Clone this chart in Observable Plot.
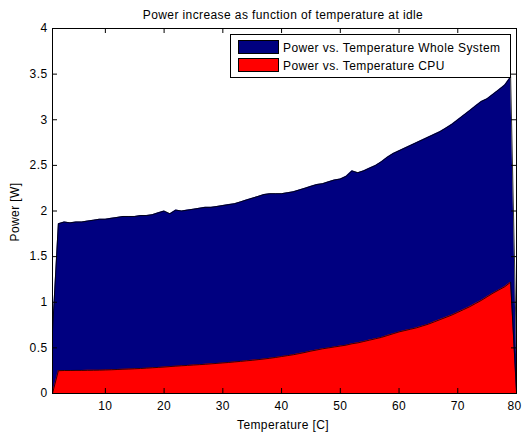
<!DOCTYPE html>
<html><head><meta charset="utf-8">
<script src="https://cdn.jsdelivr.net/npm/d3@7"></script>
<script src="https://cdn.jsdelivr.net/npm/@observablehq/plot@0.6"></script>
<style>
body{margin:0;background:#fff;}
#wrap{position:relative;width:522px;height:432px;font-family:"Liberation Sans",Arial,sans-serif;font-size:12px;letter-spacing:0.4px;color:#000;overflow:hidden;}
#wrap svg{position:absolute;left:0;top:0;}
.t{position:absolute;white-space:nowrap;line-height:1;}
#title{left:283px;top:9px;transform:translateX(-50%);}
#xlabel{left:283px;top:419px;transform:translateX(-50%);}
#ylabel{left:15px;top:212px;transform:translate(-50%,-50%) rotate(-90deg);}
#legend{position:absolute;left:230px;top:34px;width:281px;height:44px;border:1px solid #000;background:#fff;box-sizing:border-box;}
.sw{position:absolute;left:7px;width:41px;height:14px;border:1px solid #000;box-sizing:border-box;}
.lt{position:absolute;left:52px;line-height:1;white-space:nowrap;}
</style></head><body><div id="wrap"></div><script>
const temperature = [1,2,3,4,5,6,7,8,9,10,11,12,13,14,15,16,17,18,19,20,21,22,23,24,25,26,27,28,29,30,31,32,33,34,35,36,37,38,39,40,41,42,43,44,45,46,47,48,49,50,51,52,53,54,55,56,57,58,59,60,61,62,63,64,65,66,67,68,69,70,71,72,73,74,75,76,77,78,79,80];
const wholeSystem = [0.68,1.86,1.88,1.87,1.88,1.88,1.89,1.90,1.91,1.91,1.92,1.93,1.94,1.94,1.94,1.95,1.95,1.96,1.98,2.00,1.97,2.01,2.00,2.01,2.02,2.03,2.04,2.04,2.05,2.06,2.07,2.08,2.10,2.12,2.14,2.16,2.18,2.19,2.19,2.19,2.20,2.21,2.23,2.25,2.27,2.29,2.30,2.32,2.34,2.35,2.38,2.44,2.42,2.44,2.47,2.50,2.54,2.59,2.63,2.66,2.69,2.72,2.75,2.78,2.81,2.84,2.87,2.91,2.95,3.00,3.05,3.10,3.15,3.20,3.23,3.28,3.33,3.38,3.47,0.42];
const cpu = [0.00,0.25,0.252,0.252,0.253,0.253,0.254,0.255,0.256,0.258,0.26,0.263,0.266,0.268,0.271,0.274,0.278,0.282,0.286,0.29,0.295,0.30,0.304,0.308,0.312,0.316,0.32,0.325,0.33,0.335,0.34,0.346,0.352,0.358,0.364,0.371,0.378,0.386,0.395,0.405,0.415,0.425,0.437,0.45,0.465,0.477,0.49,0.50,0.51,0.52,0.53,0.545,0.555,0.57,0.585,0.60,0.615,0.635,0.655,0.675,0.69,0.705,0.72,0.74,0.76,0.785,0.81,0.835,0.86,0.89,0.92,0.95,0.985,1.02,1.06,1.10,1.135,1.17,1.22,0.02];
const xTicks = [10,20,30,40,50,60,70,80];
const yTicks = [0,0.5,1,1.5,2,2.5,3,3.5,4];
const seriesNames = ["Power vs. Temperature Whole System","Power vs. Temperature CPU"];
const titleText = "Power increase as function of temperature at idle";
const xLabelText = "Temperature [C]";
const yLabelText = "Power [W]";

const BLUE = "#000080", RED = "#ff0000";
const W = 522, H = 432, ML = 52, MR = 6, MT = 28, MB = 39, TICK = 5;
const rows = temperature.map((t,i)=>({t, whole: wholeSystem[i], cpu: cpu[i]}));
const wrap = document.getElementById("wrap");
const lastTick = xTicks[xTicks.length-1];

const chart = Plot.plot({
  width:W, height:H,
  marginLeft:ML, marginRight:MR, marginTop:MT, marginBottom:MB,
  x:{domain:[1,80]},
  y:{domain:[0,4]},
  style:{fontFamily:'"Liberation Sans",Arial,sans-serif', fontSize:"12px", background:"white", color:"#000", letterSpacing:"0.4px"},
  marks:[
    Plot.areaY(rows,{x:"t", y1:0, y2:"whole", fill:BLUE}),
    Plot.lineY(rows,{x:"t", y:"whole", stroke:"#000", strokeWidth:0.8}),
    Plot.areaY(rows,{x:"t", y1:0, y2:"cpu", fill:RED}),
    Plot.lineY(rows,{x:"t", y:"cpu", stroke:"#000", strokeWidth:0.8}),
    Plot.frame({stroke:"#000"}),
    Plot.tickX(xTicks,{x:d=>d, stroke:"#000", insetTop:(H-MT-MB-TICK)}),
    Plot.tickX(xTicks,{x:d=>d, stroke:"#000", insetBottom:(H-MT-MB-TICK)}),
    Plot.tickY(yTicks,{y:d=>d, stroke:"#000", insetRight:(W-ML-MR-TICK)}),
    Plot.tickY(yTicks,{y:d=>d, stroke:"#000", insetLeft:(W-ML-MR-TICK)}),
    Plot.axisX({anchor:"bottom", ticks:xTicks.slice(0,-1), tickSize:0, tickPadding:8, label:null, tickFormat:d=>String(d)}),
    Plot.axisX({anchor:"bottom", ticks:[lastTick], tickSize:0, tickPadding:8, label:null, dx:-2, tickFormat:d=>String(d)}),
    Plot.axisY({anchor:"left", ticks:yTicks, tickSize:0, tickPadding:5, label:null, tickFormat:d=>String(d)})
  ]
});
wrap.appendChild(chart);

function addText(id, txt){const d=document.createElement("div");d.className="t";d.id=id;d.textContent=txt;wrap.appendChild(d);}
addText("title", titleText);
addText("xlabel", xLabelText);
addText("ylabel", yLabelText);

const lg=document.createElement("div");lg.id="legend";
[BLUE,RED].forEach((c,i)=>{
  const s=document.createElement("div");s.className="sw";s.style.top=(5+i*18)+"px";s.style.background=c;lg.appendChild(s);
  const l=document.createElement("div");l.className="lt";l.style.top=(7+i*18)+"px";l.textContent=seriesNames[i];lg.appendChild(l);
});
wrap.appendChild(lg);
</script></body></html>
